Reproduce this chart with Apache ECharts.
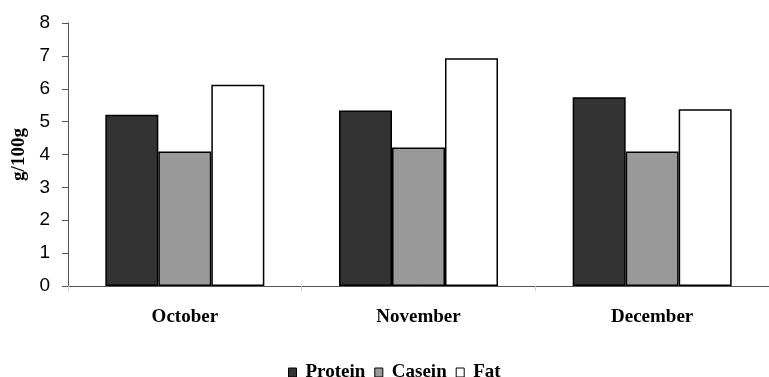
<!DOCTYPE html>
<html><head><meta charset="utf-8">
<script src="https://cdn.jsdelivr.net/npm/echarts@6/dist/echarts.min.js"></script>
<style>html,body{margin:0;padding:0;background:#fff}#c{width:769px;height:377px}</style>
</head><body><div id="c"></div>
<script>
const categories = ['October', 'November', 'December'];
const protein = [5.21, 5.34, 5.74];
const casein = [4.09, 4.21, 4.09];
const fat = [6.12, 6.93, 5.38];
const yTicks = [0, 1, 2, 3, 4, 5, 6, 7, 8];

const chart = echarts.init(document.getElementById('c'));
const serif = 'Liberation Serif';
function s(name, data, color) {
  return {
    name, type: 'bar', data, barWidth: 53, barGap: '0%',
    itemStyle: { color, borderColor: '#000', borderWidth: 1.5 }
  };
}
const legItem = n => ({ name: n, icon: 'rect', itemStyle: { borderColor: '#000', borderWidth: 1 } });
chart.setOption({
  animation: false,
  grid: { left: 68, right: -7, top: 23, bottom: 91 },
  legend: {
    top: 358, left: 283, itemWidth: 8, itemHeight: 9, itemGap: 9,
    textStyle: { fontFamily: serif, fontWeight: 'bold', fontSize: 19, color: '#000', padding: [0, 0, 0, 4] },
    data: [legItem('Protein'), legItem('Casein'), legItem('Fat')]
  },
  xAxis: {
    type: 'category', data: categories,
    axisLine: { lineStyle: { color: '#555', width: 1 } },
    axisTick: { show: true, length: 5, lineStyle: { color: '#ccc' } },
    axisLabel: { fontFamily: serif, fontWeight: 'bold', fontSize: 19, color: '#000', margin: 22 }
  },
  yAxis: {
    type: 'value', min: 0, max: 8, interval: 1,
    name: 'g/100g', nameLocation: 'middle', nameGap: 38,
    nameTextStyle: { fontFamily: serif, fontWeight: 'bold', fontSize: 19, color: '#000' },
    axisLine: { show: true, lineStyle: { color: '#555', width: 1 } },
    axisTick: { show: true, length: 6, lineStyle: { color: '#555' } },
    splitLine: { show: false },
    axisLabel: { fontFamily: 'Liberation Sans', fontSize: 19, color: '#000', margin: 18,
      formatter: v => yTicks.includes(v) ? String(v) : '' }
  },
  series: [s('Protein', protein, '#333333'), s('Casein', casein, '#999999'), s('Fat', fat, '#ffffff')]
});
</script></body></html>
